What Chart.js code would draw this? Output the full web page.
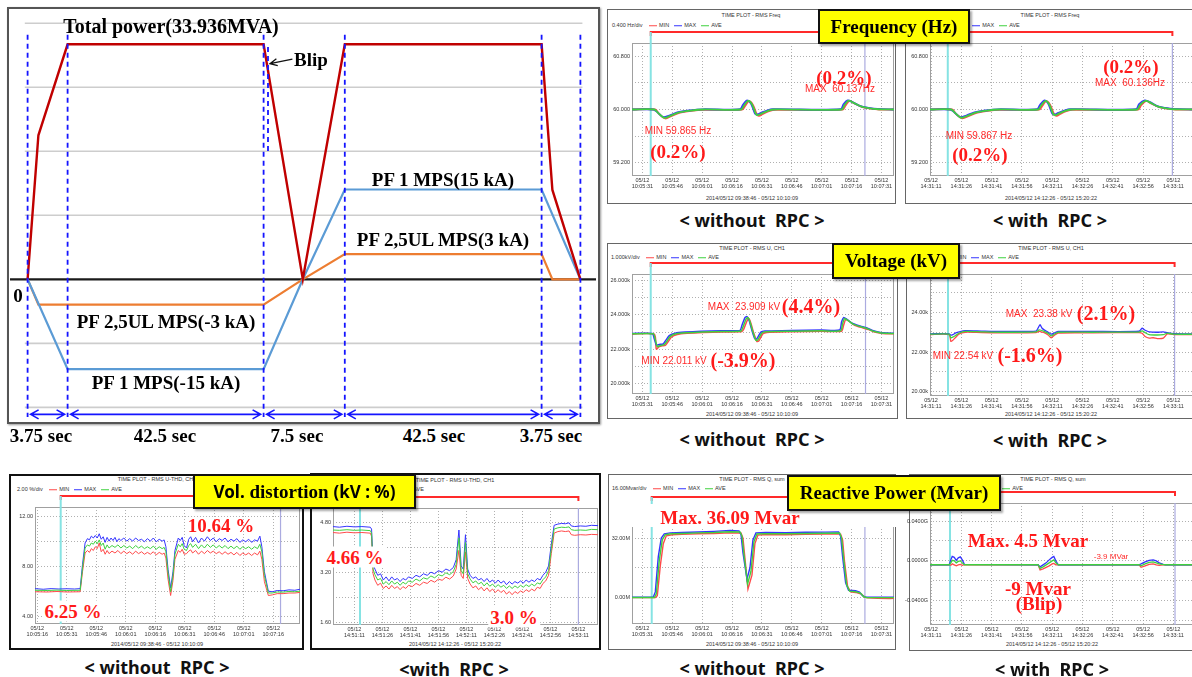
<!DOCTYPE html>
<html lang="en">
<head>
<meta charset="UTF-8">
<title>PF MPS operation and grid quality with / without RPC</title>
<script src="https://cdn.jsdelivr.net/npm/chart.js@4.4.1/dist/chart.umd.min.js"></script>
<style>
  html, body { margin: 0; padding: 0; }
  body { width: 1192px; height: 677px; position: relative; overflow: hidden; background: #fff;
         font-family: "Liberation Sans", Arial, sans-serif; }
  canvas { position: absolute; z-index: 1; }
  .frame { position: absolute; box-sizing: border-box; border: 1.5px solid #666; background: #fff; z-index: 0; }
  .frame.dark { border: 2px solid #111; }
  .main-frame { position: absolute; left: 7px; top: 7px; width: 593px; height: 417px; box-sizing: border-box;
                border: 2px solid #555; box-shadow: 1px 1px 2px #999; z-index: 0; }
  .t { position: absolute; transform: translate(-50%, -50%); white-space: nowrap; line-height: 1; z-index: 3; }
  .tl { position: absolute; transform: translateY(-50%); white-space: nowrap; line-height: 1; z-index: 2; }
  .tnr { font-family: "Liberation Serif", "Times New Roman", serif; font-weight: bold; }
  .s19 { font-size: 19px; }
  .s20 { font-size: 20px; }
  .red { color: #ff1a1a; }
  .note { font-size: 10px; color: #ff2a2a; }
  .tiny { font-size: 5.5px; color: #333; }
  .cap { font-family: "Noto Sans", "DejaVu Sans", sans-serif; font-weight: bold; font-size: 18px; color: #111; }
  .wbg { background: #fff; padding: 1px 2px; }
  .yellow { position: absolute; box-sizing: border-box; background: #ffff00; border: 2px solid #111;
            box-shadow: 2px 2px 2px rgba(0,0,0,.35); display: flex; align-items: center; justify-content: center;
            font-family: "Liberation Serif", "Times New Roman", serif; font-weight: bold; font-size: 19px;
            white-space: nowrap; z-index: 5; }
  .sans { font-family: "Noto Sans", "DejaVu Sans", sans-serif; font-size: 17px; }
  .band { position: absolute; background: #fff; z-index: 2; }
</style>
</head>
<body>

<!-- operating sequence schematic -->
<div class="main-frame"></div>
<canvas id="seqChart" width="586" height="410" style="left:10px; top:10px;"></canvas>
<div class="t tnr s20" style="left:171px; top:26px;">Total power(33.936MVA)</div>
<div class="t tnr s19" style="left:311px; top:59px;">Blip</div>
<div class="t tnr s19" style="left:443px; top:179px;">PF 1 MPS(15 kA)</div>
<div class="t tnr s19" style="left:443px; top:239px;">PF 2,5UL MPS(3 kA)</div>
<div class="t tnr s19" style="left:166px; top:321px;">PF 2,5UL MPS(-3 kA)</div>
<div class="t tnr s19" style="left:166px; top:382px;">PF 1 MPS(-15 kA)</div>
<div class="t tnr s19" style="left:18px; top:295px;">0</div>
<div class="t tnr s19" style="left:41px; top:435px;">3.75 sec</div>
<div class="t tnr s19" style="left:165px; top:435px;">42.5 sec</div>
<div class="t tnr s19" style="left:297px; top:435px;">7.5 sec</div>
<div class="t tnr s19" style="left:434px; top:435px;">42.5 sec</div>
<div class="t tnr s19" style="left:551px; top:435px;">3.75 sec</div>

<!-- frequency -->
<div class="t tnr s19 red" style="left:844px; top:77px;">(0.2%)</div>
<div class="t note" style="left:840px; top:89px;">MAX&nbsp; 60.137Hz</div>
<div class="t note" style="left:678px; top:131px;">MIN 59.865 Hz</div>
<div class="t tnr s19 red" style="left:678px; top:151px;">(0.2%)</div>
<div class="t tnr s19 red" style="left:1131px; top:66px;">(0.2%)</div>
<div class="t note" style="left:1130px; top:83px;">MAX&nbsp; 60.136Hz</div>
<div class="t note" style="left:979px; top:136px;">MIN 59.867 Hz</div>
<div class="t tnr s19 red" style="left:980px; top:154px;">(0.2%)</div>
<div class="yellow" style="left:818px; top:9px; width:152px; height:35px;">Frequency (Hz)</div>
<div class="t cap" style="left:752px; top:220px;">&lt; without&nbsp; RPC &gt;</div>
<div class="t cap" style="left:1050px; top:220px;">&lt; with&nbsp; RPC &gt;</div>

<!-- voltage -->
<div class="t note" style="left:744px; top:307px;">MAX&nbsp; 23.909 kV</div>
<div class="t tnr s20 red" style="left:811px; top:306px;">(4.4%)</div>
<div class="t note" style="left:674px; top:361px;">MIN 22.011 kV</div>
<div class="t tnr s20 red" style="left:743px; top:360px;">(-3.9%)</div>
<div class="t note" style="left:1039px; top:314px;">MAX&nbsp; 23.38 kV</div>
<div class="t tnr s20 red" style="left:1106px; top:313px;">(2.1%)</div>
<div class="t note" style="left:963px; top:356px;">MIN 22.54 kV</div>
<div class="t tnr s20 red" style="left:1030px; top:355px;">(-1.6%)</div>
<div class="yellow" style="left:832px; top:243px; width:128px; height:36px;">Voltage (kV)</div>
<div class="t cap" style="left:752px; top:439px;">&lt; without&nbsp; RPC &gt;</div>
<div class="t cap" style="left:1050px; top:440px;">&lt; with&nbsp; RPC &gt;</div>

<!-- voltage distortion -->
<div class="t tnr s19 red" style="left:221px; top:525px;">10.64 %</div>
<div class="t tnr s19 red wbg" style="left:73px; top:611px;">6.25 %</div>
<div class="t tnr s19 red wbg" style="left:355px; top:557px;">4.66 %</div>
<div class="t tnr s19 red wbg" style="left:514px; top:617px;">3.0 %</div>
<div class="yellow" style="left:193px; top:474px; width:223px; height:35px;"><span class="sans">Vol.</span>&nbsp;distortion&nbsp;<span class="sans">(kV : %)</span></div>
<div class="t cap" style="left:157px; top:667px;">&lt; without&nbsp; RPC &gt;</div>
<div class="t cap" style="left:454px; top:669px;">&lt;with&nbsp; RPC &gt;</div>

<!-- reactive power -->
<div class="band" style="left:630px; top:504px; width:266px; height:23px;"></div>
<div class="t tnr s19 red" style="left:730px; top:517px;">Max. 36.09 Mvar</div>
<div class="t tnr s19 red" style="left:1028px; top:540px;">Max. 4.5 Mvar</div>
<div class="t note" style="left:1111px; top:557px; font-size:8px;">-3.9 MVar</div>
<div class="t tnr s19 red" style="left:1038px; top:588px;">-9 Mvar</div>
<div class="t tnr s19 red" style="left:1039px; top:603px;">(Blip)</div>
<div class="yellow" style="left:787px; top:475px; width:214px; height:36px;">Reactive Power (Mvar)</div>
<div class="t cap" style="left:752px; top:668px;">&lt; without&nbsp; RPC &gt;</div>
<div class="t cap" style="left:1052px; top:669px;">&lt; with&nbsp; RPC &gt;</div>

<script>
// ---------- operating sequence (schematic, x in phase units) ----------
const phaseEdges = [0, 1, 5.9, 7.93, 12.85, 13.82];
const blipX = 6.01;
const totalPowerMVA = [[0, 0], [0.27, 20.8], [1, 33.936], [5.9, 33.936], [6.88, 0], [7.93, 33.936], [12.85, 33.936], [13.12, 12.9], [13.82, 0]];
const pf1kA = [[0, 0], [1, -15], [5.9, -15], [6.88, 0], [7.93, 15], [12.85, 15], [13.82, 0]];
const pf25ulkA = [[0, 0], [0.27, -3], [5.9, -3], [6.88, 0], [7.93, 3], [12.85, 3], [13.12, 0], [13.82, 0]];
const gridLevels = [-2, -1, 1, 2, 3, 4];

// ---------- scope recordings (x = seconds from first tick) ----------
const tickSec = [0, 15, 30, 45, 60, 75, 90, 105, 120];
const timesA = ['10:05:31', '10:05:46', '10:06:01', '10:06:16', '10:06:31', '10:06:46', '10:07:01', '10:07:16', '10:07:31'];
const timesB = ['14:31:11', '14:31:26', '14:31:41', '14:31:56', '14:32:11', '14:32:26', '14:32:41', '14:32:56', '14:33:11'];
const timesThdA = ['10:05:16', '10:05:31', '10:05:46', '10:06:01', '10:06:16', '10:06:31', '10:06:46', '10:07:01', '10:07:16'];
const timesThdB = ['14:51:11', '14:51:26', '14:51:41', '14:51:56', '14:52:11', '14:52:26', '14:52:41', '14:52:56', '14:53:11'];
const spanA = '2014/05/12 09:38:46 - 05/12 10:10:09';
const spanB = '2014/05/12 14:12:26 - 05/12 15:20:22';

const freqTicks = [59.2, 59.6, 60.0, 60.4, 60.8];
const freqTickText = ['59.200', '', '60.000', '', '60.800'];
const voltTicksA = [20, 21, 22, 23, 24, 25, 26];
const voltTickTextA = ['20.000k', '', '22.000k', '', '24.000k', '', '26.000k'];
const voltTicksB = [20, 21, 22, 23, 24, 25];
const voltTickTextB = ['20.00k', '', '22.00k', '', '24.00k', ''];
const thdTicksA = [4, 6, 8, 10, 12];
const thdTickTextA = ['4.00', '', '8.00', '', '12.00'];
const thdTicksB = [1.6, 2.4, 3.2, 4.0, 4.8];
const thdTickTextB = ['1.60', '', '3.20', '', '4.80'];
const qTicksA = [0, 16, 32, 48];
const qTickTextA = ['0.00M', '', '32.00M', ''];
const qTicksB = [-0.06, -0.04, -0.02, 0, 0.02, 0.04];
const qTickTextB = ['', '-0.0400G', '', '0.0000G', '', '0.0400G'];

const freqA_min = [[-5.2,60.0],[6.5,60.0],[8.5,59.93],[11.5,59.865],[14.5,59.9],[18.5,59.95],[24.5,59.98],[31,59.995],[50,59.997],[51.5,60.05],[53.5,60.125],[55.5,60.07],[57.5,59.925],[58.5,59.905],[60.5,59.935],[63.5,59.975],[67,59.995],[100.5,59.997],[102,60.06],[104,60.128],[106.5,60.09],[110.5,60.035],[114.5,60.012],[119,60.0],[126.3,60.0]];
const freqA_max = [[-5.2,60.0],[5.5,60.0],[7.5,59.96],[10.5,59.885],[13.5,59.91],[17.5,59.955],[23.5,59.985],[30,60.003],[49,60.004],[50.5,60.07],[52.5,60.137],[54.5,60.09],[56.5,59.94],[57.5,59.925],[59.5,59.95],[62.5,59.985],[65.5,60.004],[99.5,60.004],[101,60.08],[103,60.137],[105.5,60.11],[109.5,60.05],[113.5,60.025],[118,60.008],[126.3,60.0]];
const freqA_ave = [[-5.2,60.0],[6,60.0],[8,59.945],[11,59.875],[14,59.905],[18,59.952],[24,59.982],[30.5,60.0],[49.5,60.0],[51,60.06],[53,60.131],[55,60.08],[57,59.932],[58,59.915],[60,59.942],[63,59.98],[66,60.0],[100,60.0],[101.5,60.07],[103.5,60.132],[106,60.1],[110,60.042],[114,60.018],[118.5,60.004],[126.3,60.0]];

const freqB_min = [[-0.5,60.0],[10.5,60.0],[12.5,59.93],[15.5,59.867],[18.5,59.9],[22.5,59.95],[28,59.98],[34,59.995],[53.5,59.997],[55,60.05],[57,60.125],[59,60.07],[61,59.925],[62.2,59.905],[64,59.935],[67,59.975],[70,59.995],[102.5,59.997],[104,60.06],[106.5,60.128],[109,60.09],[113,60.035],[117,60.012],[121,60.0],[130.7,60.0]];
const freqB_max = [[-0.5,60.0],[9.5,60.0],[11.5,59.96],[14.5,59.885],[17.5,59.91],[21.5,59.955],[27,59.985],[33,60.003],[52.5,60.004],[54,60.07],[56.3,60.136],[58,60.09],[60,59.94],[61.2,59.925],[63,59.95],[66,59.985],[69,60.004],[101.5,60.004],[103,60.08],[105.8,60.136],[108.5,60.11],[112,60.05],[116,60.025],[120,60.008],[130.7,60.0]];
const freqB_ave = [[-0.5,60.0],[10,60.0],[12,59.945],[15,59.876],[18,59.905],[22,59.952],[27.5,59.982],[33.5,60.0],[53,60.0],[54.5,60.06],[56.7,60.13],[58.5,60.08],[60.5,59.932],[61.7,59.915],[63.5,59.942],[66.5,59.98],[69.5,60.0],[102,60.0],[103.5,60.07],[106.2,60.131],[108.8,60.1],[112.5,60.042],[116.5,60.018],[120.5,60.004],[130.7,60.0]];

const voltA_min = [[-5.2,22.88],[6,22.88],[7,22.011],[8.5,22.15],[10,22.2],[11.5,22.22],[13,22.45],[14.5,22.7],[17.5,22.86],[22.5,22.93],[30.5,22.98],[40.5,23.01],[50,23.03],[51,23.2],[52.5,23.65],[53.5,23.78],[54.5,23.5],[56,22.9],[57.5,22.45],[58.5,22.5],[60.5,22.9],[62.5,22.98],[75,23.02],[90,23.05],[100,23.05],[101,23.4],[102,23.72],[103.5,23.65],[106.5,23.4],[110.5,23.25],[113.5,23.15],[116.5,23.0],[120.5,22.92],[126.3,22.9]];
const voltA_max = [[-5.2,22.92],[5,22.92],[6,22.6],[7,22.25],[8.5,22.28],[10.5,22.32],[12,22.56],[13.5,22.8],[16.5,22.94],[21.5,23.0],[29.5,23.05],[39.5,23.08],[49,23.1],[50,23.4],[51.5,23.85],[52.5,23.909],[53.5,23.7],[55,23.1],[56.5,22.6],[57.5,22.62],[59.5,23.0],[61.5,23.06],[75,23.1],[90,23.12],[99,23.12],[100,23.6],[101,23.85],[102.5,23.76],[105.5,23.5],[109.5,23.35],[112.5,23.25],[115.5,23.1],[119.5,22.98],[126.3,22.93]];
const voltA_ave = [[-5.2,22.9],[5.5,22.9],[6.5,22.55],[7.5,22.15],[9,22.22],[11,22.27],[12.5,22.5],[14,22.75],[17,22.9],[22,22.96],[30,23.01],[40,23.04],[49.5,23.06],[50.5,23.3],[52,23.75],[53,23.85],[54,23.6],[55.5,23.0],[57,22.52],[58,22.56],[60,22.95],[62,23.02],[75,23.05],[90,23.08],[99.5,23.08],[100.5,23.5],[101.5,23.8],[103,23.7],[106,23.45],[110,23.3],[113,23.2],[116,23.05],[120,22.95],[126.3,22.92]];

const voltB_min = [[-0.5,22.88],[9,22.88],[9.8,22.54],[10.8,22.6],[12,22.72],[14,22.92],[17,23.0],[25,22.98],[35,22.97],[52,22.98],[53.5,23.05],[54.5,23.02],[56,22.98],[58,22.86],[59.5,22.72],[61,22.84],[63,22.96],[80,22.97],[103,22.98],[104.5,22.95],[106,22.78],[108,22.7],[110,22.72],[112,22.68],[115,22.7],[117,22.92],[120,22.88],[130.7,22.88]];
const voltB_max = [[-0.5,22.92],[9,22.92],[9.8,22.85],[10.8,22.88],[12,22.95],[14,23.02],[17,23.08],[25,23.06],[35,23.04],[52,23.06],[53.2,23.25],[54,23.38],[55,23.2],[56,23.12],[58,23.0],[59.5,22.9],[61,22.96],[63,23.04],[80,23.04],[103,23.05],[104.5,23.2],[106,23.1],[108,23.02],[112,23.0],[115,23.02],[117,22.98],[120,22.93],[130.7,22.92]];
const voltB_ave = [[-0.5,22.9],[9,22.9],[9.8,22.72],[10.8,22.75],[12,22.82],[14,22.96],[17,23.04],[25,23.02],[35,23.0],[52,23.02],[53.5,23.12],[54.5,23.1],[56,23.04],[58,22.94],[59.5,22.82],[61,22.9],[63,23.0],[80,23.0],[103,23.01],[104.5,23.07],[106,22.98],[108,22.88],[112,22.86],[115,22.88],[117,22.95],[120,22.9],[130.7,22.9]];

const thdA_max = [[-1.2,6.25],[3,6.2],[7,6.25],[11,6.22],[15,6.24],[19,6.22],[21.8,6.25],[23,8.2],[24.3,9.9],[25.5,10.25],[26.5,10.15],[27.5,10.45],[28.5,10.3],[29.5,10.5],[30.5,10.3],[31.5,10.64],[32.5,10.2],[33.5,10.4],[34.5,9.95],[35.5,10.35],[36.5,10.05],[37.5,10.3],[38.5,10.1],[39.5,10.35],[40.5,10.0],[41.5,10.25],[42.5,10.1],[44,10.3],[45.5,10.05],[47,10.25],[48.5,10.05],[50,10.3],[51.5,10.1],[53,10.2],[54.5,10.0],[56,10.25],[57.5,10.05],[59,10.3],[60.5,10.0],[62,10.2],[63.5,10.05],[64.5,10.15],[65.4,9.6],[66.5,7.8],[67.8,6.3],[69,7.6],[70,9.3],[71.7,10.3],[72.7,10.1],[73.7,10.35],[74.7,9.7],[75.9,9.5],[77,10.2],[78,10.4],[79,10.0],[80.5,10.35],[82,9.9],[83.5,10.3],[85,10.05],[86.5,10.4],[88,10.1],[89.5,10.3],[91,10.0],[92.5,10.25],[94,10.1],[95.5,10.3],[97,10.0],[98.5,10.2],[100,10.05],[101.5,10.25],[103,9.95],[104.5,10.15],[106,10.0],[107.5,10.2],[109,9.95],[110.5,10.15],[112,10.05],[113.2,10.45],[114.2,9.6],[115.5,7.6],[117.5,6.05],[119.5,6.0],[122,6.1],[125,6.08],[128,6.15],[131,6.12],[133.6,6.2]];
const thdA_ave = [[-1.2,6.12],[5,6.1],[10,6.13],[15,6.1],[21.8,6.12],[23,7.9],[24.3,9.5],[25.5,9.75],[26.5,9.65],[27.5,9.9],[28.5,9.8],[29.5,10.05],[30.5,9.85],[31.5,10.15],[32.5,9.7],[33.5,9.9],[34.5,9.4],[35.5,9.75],[36.5,9.5],[38,9.7],[39.5,9.55],[41,9.75],[42.5,9.5],[44,9.7],[45.5,9.5],[47,9.65],[48.5,9.45],[50,9.7],[51.5,9.5],[53,9.65],[54.5,9.45],[56,9.6],[57.5,9.45],[59,9.65],[60.5,9.4],[62,9.6],[63.5,9.45],[64.5,9.55],[65.4,9.2],[66.5,7.5],[67.8,6.0],[69,7.3],[70,9.0],[71.7,9.8],[72.7,9.6],[73.7,9.85],[74.7,9.4],[75.9,9.3],[77,9.7],[78,9.85],[79,9.55],[80.5,9.8],[82,9.45],[83.5,9.75],[85,9.5],[86.5,9.8],[88,9.55],[89.5,9.75],[91,9.5],[92.5,9.7],[94,9.5],[95.5,9.7],[97,9.45],[98.5,9.65],[100,9.45],[101.5,9.65],[103,9.4],[104.5,9.6],[106,9.45],[107.5,9.6],[109,9.4],[110.5,9.6],[112,9.45],[113.2,9.8],[114.2,9.2],[115.5,7.3],[117.5,5.9],[119.5,5.9],[122,5.98],[125,5.97],[128,6.02],[131,6.0],[133.6,6.05]];
const thdA_min = [[-1.2,6.0],[5,5.98],[10,6.02],[15,5.98],[21.8,6.0],[23,7.6],[24.3,9.1],[25.5,9.3],[26.5,9.15],[27.5,9.45],[28.5,9.3],[29.5,9.6],[30.5,9.45],[31.5,9.9],[32.5,9.2],[33.5,9.4],[34.5,9.0],[35.5,9.3],[36.5,9.05],[38,9.25],[39.5,9.1],[41,9.3],[42.5,9.05],[44,9.25],[45.5,9.05],[47,9.2],[48.5,9.0],[50,9.25],[51.5,9.05],[53,9.2],[54.5,9.0],[56,9.15],[57.5,9.0],[59,9.2],[60.5,8.95],[62,9.15],[63.5,9.0],[64.5,9.1],[65.4,8.7],[66.5,7.0],[67.8,5.7],[69,6.9],[70,8.6],[71.7,9.3],[72.7,9.15],[73.7,9.4],[74.7,9.0],[75.9,9.05],[77,9.25],[78,9.35],[79,9.1],[80.5,9.3],[82,9.0],[83.5,9.25],[85,9.05],[86.5,9.3],[88,9.1],[89.5,9.25],[91,9.05],[92.5,9.2],[94,9.0],[95.5,9.2],[97,9.0],[98.5,9.15],[100,8.95],[101.5,9.15],[103,8.9],[104.5,9.1],[106,8.95],[107.5,9.1],[109,8.9],[110.5,9.1],[112,8.95],[113.2,9.25],[114.2,8.6],[115.5,6.8],[117.5,5.7],[119.5,5.75],[122,5.85],[125,5.85],[128,5.9],[131,5.9],[133.6,5.95]];

const thdB_max = [[-11.5,4.66],[-8,4.64],[-4,4.67],[0,4.65],[4,4.66],[8.5,4.64],[9.2,4.58],[10,3.45],[11,3.3],[12.5,3.1],[14,3.15],[15.5,2.95],[17,3.05],[18.5,2.92],[20,3.05],[21.5,2.95],[23,3.0],[24.5,2.9],[26,3.0],[27.5,2.95],[29,3.05],[31,3.0],[33,3.1],[35,3.05],[37,3.15],[39,3.1],[41,3.2],[43,3.15],[45,3.25],[47,3.2],[49,3.3],[51,3.25],[53,3.35],[54.5,3.6],[56,4.55],[57.2,3.4],[58.3,3.3],[59.5,4.4],[60.7,3.3],[62,3.1],[63.5,3.0],[65,3.05],[66.5,2.95],[68,3.0],[69.5,2.9],[71,3.0],[72.5,2.88],[74,2.95],[75.5,2.85],[77,2.95],[78.5,2.85],[80,2.92],[81.5,2.8],[83,2.9],[84.5,2.82],[86,2.9],[87.5,2.85],[89,2.92],[90.5,2.85],[92,2.95],[93.5,2.88],[95,2.95],[96.5,2.9],[98,3.0],[99.5,2.95],[101,3.1],[102.5,3.2],[104,3.4],[105.5,4.1],[107,4.7],[109,4.74],[111,4.76],[113,4.75],[115,4.78],[116.2,4.68],[118,4.66],[121,4.68],[124,4.67],[127,4.7],[130.5,4.69]];
const thdB_ave = [[-11.5,4.55],[-8,4.54],[-4,4.56],[0,4.54],[4,4.55],[8.5,4.53],[9.2,4.45],[10,3.3],[11,3.12],[12.5,2.95],[14,3.0],[15.5,2.82],[17,2.9],[18.5,2.8],[20,2.92],[21.5,2.82],[23,2.88],[24.5,2.78],[26,2.88],[27.5,2.82],[29,2.92],[31,2.88],[33,2.98],[35,2.92],[37,3.02],[39,2.98],[41,3.08],[43,3.02],[45,3.12],[47,3.08],[49,3.18],[51,3.12],[53,3.22],[54.5,3.45],[56,4.3],[57.2,3.25],[58.3,3.15],[59.5,4.15],[60.7,3.15],[62,2.98],[63.5,2.86],[65,2.92],[66.5,2.82],[68,2.88],[69.5,2.76],[71,2.86],[72.5,2.75],[74,2.82],[75.5,2.72],[77,2.8],[78.5,2.72],[80,2.78],[81.5,2.68],[83,2.76],[84.5,2.68],[86,2.76],[87.5,2.7],[89,2.78],[90.5,2.72],[92,2.8],[93.5,2.74],[95,2.82],[96.5,2.76],[98,2.86],[99.5,2.82],[101,2.96],[102.5,3.05],[104,3.25],[105.5,3.95],[107,4.58],[109,4.62],[111,4.64],[113,4.63],[115,4.65],[116.2,4.56],[118,4.54],[121,4.55],[124,4.54],[127,4.57],[130.5,4.56]];
const thdB_min = [[-11.5,4.47],[-8,4.45],[-4,4.48],[0,4.46],[4,4.47],[8.5,4.45],[9.2,4.35],[10,3.15],[11,2.95],[12.5,2.78],[14,2.85],[15.5,2.68],[17,2.76],[18.5,2.66],[20,2.78],[21.5,2.68],[23,2.74],[24.5,2.64],[26,2.74],[27.5,2.68],[29,2.78],[31,2.74],[33,2.84],[35,2.78],[37,2.88],[39,2.84],[41,2.94],[43,2.88],[45,2.98],[47,2.94],[49,3.04],[51,2.98],[53,3.08],[54.5,3.3],[56,3.9],[57.2,3.1],[58.3,3.0],[59.5,3.85],[60.7,3.0],[62,2.82],[63.5,2.7],[65,2.76],[66.5,2.64],[68,2.72],[69.5,2.6],[71,2.7],[72.5,2.58],[74,2.66],[75.5,2.55],[77,2.64],[78.5,2.55],[80,2.62],[81.5,2.5],[83,2.58],[84.5,2.48],[86,2.58],[87.5,2.52],[89,2.6],[90.5,2.55],[92,2.64],[93.5,2.58],[95,2.66],[96.5,2.6],[98,2.72],[99.5,2.68],[101,2.84],[102.5,2.92],[104,3.1],[105.5,3.8],[107,4.45],[109,4.5],[111,4.52],[113,4.5],[115,4.52],[116.2,4.4],[118,4.38],[121,4.4],[124,4.39],[127,4.41],[130.5,4.4]];

const qA_max = [[-5.2,0.2],[5.5,0.2],[6.5,3],[8,22],[9.5,32],[11,34.3],[14,34.8],[20,35.0],[28,35.3],[36,35.6],[44,36.09],[48.5,35.9],[49.5,34],[50.5,24],[52.5,9.9],[54,16],[55.5,31],[57,34.8],[62,35.0],[72,34.9],[82,35.1],[92,35.2],[98.5,35.3],[99.5,33],[100.5,22],[102,8],[103.5,3.9],[107,3.6],[109,2.9],[110.5,1.0],[112,0.2],[118,0.2],[126.3,0.1]];
const qA_ave = [[-5.2,0],[6,0],[7,2],[8.5,20],[10,31],[11.5,33.8],[14.5,34.3],[20,34.5],[28,34.8],[36,35.0],[44,35.4],[49,35.3],[50,33],[51,23],[52.8,7.2],[54.5,14],[56,30],[57.5,34.2],[62,34.4],[72,34.3],[82,34.5],[92,34.6],[99,34.7],[100,32],[101,21],[102.5,7],[104,3.4],[107,3.1],[109.5,2.4],[111,0.5],[112.5,0],[118,-0.1],[126.3,-0.1]];
const qA_min = [[-5.2,-0.1],[6.5,-0.1],[7.5,1],[9,17],[10.5,29],[12,33.2],[15,33.8],[20,34.0],[28,34.3],[36,34.5],[44,34.8],[49.5,34.7],[50.5,32],[51.5,21],[53,4.5],[55,12],[56.5,29],[58,33.6],[62,33.9],[72,33.8],[82,34.0],[92,34.1],[99.5,34.1],[100.5,31],[101.5,19],[103,6],[104.5,3.0],[107,2.7],[110,1.8],[111.5,0.2],[113,-0.2],[118,-0.5],[124,-0.6],[126.3,-0.4]];

const qB_max = [[-0.5,-0.0039],[9,-0.0039],[9.8,0.001],[10.5,0.0045],[11.5,0.0035],[12.5,0.0005],[13.5,0.003],[14.5,0.004],[15.5,0.001],[16.5,-0.0035],[53,-0.0039],[54,-0.006],[55.5,-0.004],[57,-0.002],[58.5,0.001],[60,0.0035],[60.8,0.0045],[61.8,0.0],[63,-0.0039],[103,-0.0039],[104,-0.003],[106,-0.001],[108,0.0005],[110,0.001],[111.5,0.0],[113,-0.002],[115,-0.0035],[116,-0.0039],[130.7,-0.0039]];
const qB_ave = [[-0.5,-0.0039],[9,-0.0039],[9.8,-0.002],[10.5,0.0005],[11.5,0.0],[12.5,-0.002],[13.5,-0.0005],[14.5,0.0],[15.5,-0.002],[16.5,-0.0039],[53,-0.0039],[54,-0.0075],[55.5,-0.006],[57,-0.004],[58.5,-0.002],[60,0.0],[60.8,0.001],[61.8,-0.002],[63,-0.0039],[103,-0.0039],[104,-0.005],[106,-0.003],[108,-0.0015],[110,-0.001],[111.5,-0.002],[113,-0.003],[115,-0.0038],[116,-0.0039],[130.7,-0.0039]];
const qB_min = [[-0.5,-0.0039],[9,-0.0039],[9.8,-0.0045],[10.5,-0.003],[11.5,-0.004],[12.5,-0.005],[13.5,-0.004],[14.5,-0.0035],[15.5,-0.0045],[16.5,-0.0039],[53,-0.0039],[54,-0.009],[55.5,-0.008],[57,-0.0065],[58.5,-0.005],[60,-0.003],[60.8,-0.0025],[61.8,-0.004],[63,-0.0039],[103,-0.0039],[104,-0.0065],[106,-0.005],[108,-0.0035],[110,-0.003],[111.5,-0.004],[113,-0.0045],[115,-0.004],[116,-0.0039],[130.7,-0.0039]];

const seriesNames = ['MIN', 'MAX', 'AVE'];
const seriesColors = ['#ff4a4a', '#3434ff', '#3fd13f'];

Chart.defaults.font.family = '"Liberation Sans", Arial, sans-serif';

// ---------- schematic chart ----------
const seqGuides = {
  id: 'seqGuides',
  beforeDatasetsDraw(chart) {
    const { ctx, chartArea: a, scales: { x, yGrid } } = chart;
    ctx.save();
    ctx.strokeStyle = '#cdcdcd';
    ctx.lineWidth = 1.6;
    gridLevels.forEach(v => {
      const y = yGrid.getPixelForValue(v);
      ctx.beginPath();
      ctx.moveTo(x.getPixelForValue(-0.07), y);
      ctx.lineTo(x.getPixelForValue(13.87), y);
      ctx.stroke();
    });
    const y0 = yGrid.getPixelForValue(0);
    ctx.strokeStyle = '#1a1a1a';
    ctx.lineWidth = 2.2;
    ctx.beginPath();
    ctx.moveTo(a.left, y0);
    ctx.lineTo(a.right, y0);
    ctx.stroke();
    ctx.restore();
  },
  afterDatasetsDraw(chart) {
    const { ctx, scales: { x, yGrid } } = chart;
    ctx.save();
    ctx.strokeStyle = '#1414ff';
    ctx.lineWidth = 1.8;
    ctx.setLineDash([5, 4]);
    const vline = (xv, g1, g2) => {
      const px = x.getPixelForValue(xv);
      ctx.beginPath();
      ctx.moveTo(px, yGrid.getPixelForValue(g1));
      ctx.lineTo(px, yGrid.getPixelForValue(g2));
      ctx.stroke();
    };
    phaseEdges.forEach(e => vline(e, 3.82, -2.15));
    vline(blipX, 3.63, 2.0);
    ctx.setLineDash([]);

    // duration arrows
    const ay = yGrid.getPixelForValue(-2.11);
    ctx.lineWidth = 1.6;
    for (let i = 0; i < phaseEdges.length - 1; i++) {
      const x1 = x.getPixelForValue(phaseEdges[i]) + 3;
      const x2 = x.getPixelForValue(phaseEdges[i + 1]) - 3;
      ctx.beginPath();
      ctx.moveTo(x1, ay); ctx.lineTo(x2, ay);
      ctx.moveTo(x1 + 8, ay - 4.5); ctx.lineTo(x1, ay); ctx.lineTo(x1 + 8, ay + 4.5);
      ctx.moveTo(x2 - 8, ay - 4.5); ctx.lineTo(x2, ay); ctx.lineTo(x2 - 8, ay + 4.5);
      ctx.stroke();
    }

    // pointer to the blip
    const tx = x.getPixelForValue(6.62), ty = yGrid.getPixelForValue(3.44);
    const hx = x.getPixelForValue(6.06), hy = yGrid.getPixelForValue(3.37);
    const ang = Math.atan2(hy - ty, hx - tx);
    ctx.strokeStyle = '#111';
    ctx.lineWidth = 1.3;
    ctx.beginPath();
    ctx.moveTo(tx, ty); ctx.lineTo(hx, hy);
    ctx.moveTo(hx - 8 * Math.cos(ang - 0.45), hy - 8 * Math.sin(ang - 0.45));
    ctx.lineTo(hx, hy);
    ctx.lineTo(hx - 8 * Math.cos(ang + 0.45), hy - 8 * Math.sin(ang + 0.45));
    ctx.stroke();
    ctx.restore();
  }
};

new Chart(document.getElementById('seqChart'), {
  type: 'line',
  data: {
    datasets: [
      { label: 'Total power', data: totalPowerMVA, yAxisID: 'yPower', borderColor: '#c00000', borderWidth: 2.4 },
      { label: 'PF 1 MPS', data: pf1kA, yAxisID: 'yPf1', borderColor: '#5b9bd5', borderWidth: 2.2 },
      { label: 'PF 2,5UL MPS', data: pf25ulkA, yAxisID: 'yPf25', borderColor: '#ed7d31', borderWidth: 2.2 }
    ]
  },
  options: {
    responsive: false,
    animation: false,
    devicePixelRatio: 1,
    layout: { padding: 0 },
    elements: { point: { radius: 0 }, line: { tension: 0 } },
    plugins: { legend: { display: false }, tooltip: { enabled: false } },
    scales: {
      x: { type: 'linear', display: false, min: -0.44, max: 14.21 },
      yPower: { type: 'linear', axis: 'y', display: false, min: -20.32, max: 38.89 },
      yPf1: { type: 'linear', axis: 'y', display: false, min: -23.50, max: 44.98 },
      yPf25: { type: 'linear', axis: 'y', display: false, min: -16.69, max: 31.95 },
      yGrid: { type: 'linear', axis: 'y', display: false, min: -2.198, max: 4.208 }
    }
  },
  plugins: [seqGuides]
});

// ---------- scope panels ----------
const scopeMarks = {
  id: 'scopeMarks',
  beforeDatasetsDraw(chart, args, opts) {
    const { ctx, chartArea: a, scales: { x } } = chart;
    const cx = x.getPixelForValue(opts.cyan);
    const lx = x.getPixelForValue(opts.lav);
    const by = a.top - 11;
    ctx.save();
    ctx.strokeStyle = '#a0a0a0';
    ctx.lineWidth = 1;
    ctx.strokeRect(a.left + 0.5, a.top + 0.5, a.right - a.left - 1, a.bottom - a.top - 1);
    ctx.strokeStyle = '#ff2a2a';
    ctx.lineWidth = 2;
    ctx.beginPath();
    ctx.moveTo(cx, by + 4); ctx.lineTo(cx, by); ctx.lineTo(lx, by); ctx.lineTo(lx, by + 4);
    ctx.stroke();
    ctx.strokeStyle = '#86e3e3';
    ctx.lineWidth = 2;
    ctx.beginPath();
    ctx.moveTo(cx, by); ctx.lineTo(cx, a.bottom);
    ctx.stroke();
    ctx.strokeStyle = '#ababe0';
    ctx.lineWidth = 1.2;
    ctx.beginPath();
    ctx.moveTo(lx, a.top); ctx.lineTo(lx, a.bottom);
    ctx.stroke();
    ctx.restore();
  }
};

const panels = [
  { frame: [607, 9, 289, 195], title: 'TIME PLOT - RMS  Freq', titleX: 751, titleY: 16, unit: '0.400 Hz/div', legendX: 612, legendY: 26,
    footer: spanA, footerX: 752, footerY: 199, plot: [632, 43, 262, 133], xMin: -5.2, xMax: 126.3, yMin: 59.0, yMax: 61.0,
    yTicks: freqTicks, yText: freqTickText, times: timesA, series: [freqA_min, freqA_max, freqA_ave], cyan: 4.2, lav: 111.7, lw: 1.8, tension: 0.3 },
  { frame: [905, 9, 295, 195], title: 'TIME PLOT - RMS  Freq', titleX: 1050, titleY: 16, unit: '0.400 Hz/div', legendX: 910, legendY: 26,
    footer: spanB, footerX: 1051, footerY: 199, plot: [930, 43, 265, 133], xMin: -0.5, xMax: 130.7, yMin: 59.0, yMax: 61.0,
    yTicks: freqTicks, yText: freqTickText, times: timesB, series: [freqB_min, freqB_max, freqB_ave], cyan: 8.3, lav: 119.5, lw: 1.8, tension: 0.3 },
  { frame: [607, 243, 291, 176], title: 'TIME PLOT - RMS  U, CH1', titleX: 752, titleY: 249, unit: '1.000kV/div', legendX: 611, legendY: 258,
    footer: spanA, footerX: 752, footerY: 415, plot: [632, 274, 262, 120], xMin: -5.2, xMax: 126.3, yMin: 19.39, yMax: 26.39,
    yTicks: voltTicksA, yText: voltTickTextA, times: timesA, series: [voltA_min, voltA_max, voltA_ave], cyan: 4.2, lav: 112, lw: 1.5, tension: 0.2 },
  { frame: [906, 243, 295, 176], title: 'TIME PLOT - RMS  U, CH1', titleX: 1051, titleY: 249, unit: '1.000kV/div', legendX: 911, legendY: 258,
    footer: spanB, footerX: 1051, footerY: 415, plot: [930, 274, 265, 122], xMin: -0.5, xMax: 130.7, yMin: 19.78, yMax: 25.94,
    yTicks: voltTicksB, yText: voltTickTextB, times: timesB, series: [voltB_min, voltB_max, voltB_ave], cyan: 8.4, lav: 120.6, lw: 1.3, tension: 0.2 },
  { frame: [9, 474, 295, 176], dark: true, title: 'TIME PLOT - RMS  U-THD, CH1', titleX: 157, titleY: 480, unit: '2.00 %/div', legendX: 17, legendY: 490,
    footer: spanA, footerX: 157, footerY: 645, plot: [35, 507, 265, 117], xMin: -1.17, xMax: 133.6, yMin: 3.42, yMax: 12.78,
    yTicks: thdTicksA, yText: thdTickTextA, times: timesThdA, series: [thdA_min, thdA_max, thdA_ave], cyan: 11.9, lav: 123.7, lw: 1, tension: 0 },
  { frame: [310, 473, 291, 177], dark: true, title: 'TIME PLOT - RMS  U-THD, CH1', titleX: 455, titleY: 481, unit: '0.800 %/div', legendX: 316, legendY: 490,
    footer: spanB, footerX: 455, footerY: 645, plot: [333, 508, 265, 117], xMin: -11.46, xMax: 130.5, yMin: 1.51, yMax: 5.254,
    yTicks: thdTicksB, yText: thdTickTextB, times: timesThdB, series: [thdB_min, thdB_max, thdB_ave], cyan: 3.0, lav: 120, lw: 1, tension: 0 },
  { frame: [608, 474, 288, 176], title: 'TIME PLOT - RMS  Q, sum', titleX: 752, titleY: 480, unit: '16.00Mvar/div', legendX: 612, legendY: 489,
    footer: spanA, footerX: 752, footerY: 645, plot: [632, 508, 262, 116], xMin: -5.2, xMax: 126.3, yMin: -14.3, yMax: 48.2,
    yTicks: qTicksA, yText: qTickTextA, times: timesA, series: [qA_min, qA_max, qA_ave], cyan: 4.7, lav: 111.7, lw: 1.4, tension: 0 },
  { frame: [909, 474, 290, 177], title: 'TIME PLOT - RMS  Q, sum', titleX: 1053, titleY: 480, unit: '0.0200G/div', legendX: 914, legendY: 489,
    footer: spanB, footerX: 1052, footerY: 645, plot: [930, 503, 265, 122], xMin: -0.5, xMax: 130.7, yMin: -0.0644, yMax: 0.0581,
    yTicks: qTicksB, yText: qTickTextB, times: timesB, series: [qB_min, qB_max, qB_ave], cyan: 9.4, lav: 120.8, lw: 1.3, tension: 0 }
];

function addText(html, x, y, cls, center) {
  const d = document.createElement('div');
  d.className = (center ? 't ' : 'tl ') + cls;
  d.style.left = x + 'px';
  d.style.top = y + 'px';
  d.style.zIndex = 1;
  d.innerHTML = html;
  document.body.appendChild(d);
}

function buildPanel(p) {
  const f = document.createElement('div');
  f.className = 'frame' + (p.dark ? ' dark' : '');
  f.style.cssText = `left:${p.frame[0]}px;top:${p.frame[1]}px;width:${p.frame[2]}px;height:${p.frame[3]}px;`;
  document.body.appendChild(f);

  addText(p.title, p.titleX, p.titleY, 'tiny', true);
  addText(p.footer, p.footerX, p.footerY, 'tiny', true);
  const legend = p.unit + '&nbsp;' + seriesNames.map((n, i) =>
    `<span style="display:inline-block;width:8px;height:1.3px;background:${seriesColors[i]};vertical-align:middle;margin:0 2px 0 5px"></span>${n}`).join('');
  addText(legend, p.legendX, p.legendY, 'tiny', false);

  const [px, py, pw, ph] = p.plot;
  const axisW = 26, padTop = 14, axisH = 15;
  const cv = document.createElement('canvas');
  cv.width = pw + axisW;
  cv.height = ph + padTop + axisH;
  cv.style.left = (px - axisW) + 'px';
  cv.style.top = (py - padTop) + 'px';
  document.body.appendChild(cv);

  // AVE first so it is painted on top of MAX and MIN
  const order = [2, 1, 0];
  new Chart(cv, {
    type: 'line',
    data: {
      datasets: order.map(i => ({
        label: seriesNames[i], data: p.series[i], borderColor: seriesColors[i],
        borderWidth: p.lw, tension: p.tension, pointRadius: 0, fill: false
      }))
    },
    options: {
      responsive: false,
      animation: false,
      devicePixelRatio: 1,
      layout: { padding: { top: padTop, left: 0, right: 0, bottom: 0 } },
      plugins: { legend: { display: false }, tooltip: { enabled: false }, scopeMarks: { cyan: p.cyan, lav: p.lav } },
      scales: {
        x: {
          type: 'linear', min: p.xMin, max: p.xMax,
          afterBuildTicks: s => { s.ticks = tickSec.map(v => ({ value: v })); },
          afterFit: s => { s.height = axisH; s.paddingLeft = 0; s.paddingRight = 0; },
          ticks: { autoSkip: false, maxRotation: 0, padding: 1, color: '#333',
                   font: { size: 5.5, lineHeight: 1.1 }, callback: (v, i) => ['05/12', p.times[i]] },
          grid: { color: '#9c9c9c', lineWidth: 0.8, drawTicks: false },
          border: { display: false, dash: [1, 2] }
        },
        y: {
          type: 'linear', min: p.yMin, max: p.yMax,
          afterBuildTicks: s => { s.ticks = p.yTicks.map(v => ({ value: v })); },
          afterFit: s => { s.width = axisW; s.paddingTop = 0; s.paddingBottom = 0; },
          ticks: { padding: 2, color: '#333', font: { size: 5.5 }, callback: (v, i) => p.yText[i] },
          grid: { color: '#9c9c9c', lineWidth: 0.8, drawTicks: false },
          border: { display: false, dash: [1, 2] }
        }
      }
    },
    plugins: [scopeMarks]
  });
}

panels.forEach(buildPanel);
</script>
</body>
</html>
